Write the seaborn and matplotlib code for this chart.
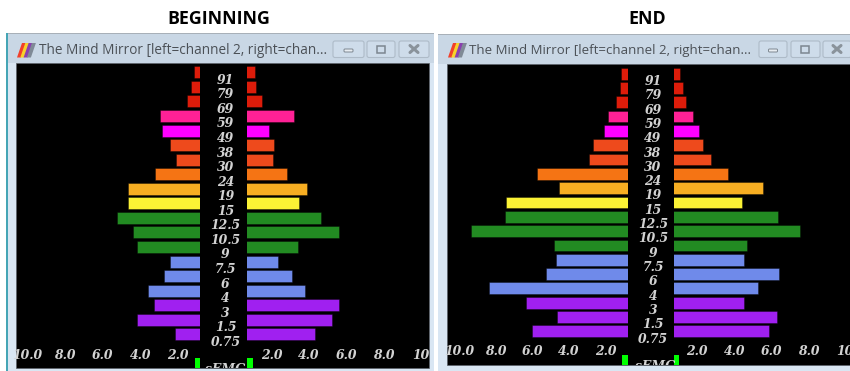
import numpy as np
import pandas as pd
import matplotlib
matplotlib.use("Agg")
import matplotlib.pyplot as plt
from matplotlib.patches import Rectangle, Polygon, FancyBboxPatch
import seaborn as sns

bands = ["91","79","69","59","49","38","30","24","19","15","12.5","10.5","9","7.5","6","4","3","1.5","0.75"]
band_colors = ["#dd1c0a","#dd1c0a","#dd1c0a","#ff2196","#ff00ff","#ee4a1c","#ee4a1c","#f57414","#f7ae22","#fbf235",
               "#228b22","#228b22","#228b22","#6f8aea","#6f8aea","#6f8aea","#a020f0","#a020f0","#a020f0"]
begin_left = [1.15,1.33,1.50,2.94,2.85,2.42,2.12,3.24,4.67,4.67,5.22,4.37,4.16,2.42,2.76,3.59,3.29,4.16,2.16]
begin_right = [1.09,1.14,1.50,3.21,1.86,2.11,2.07,2.84,3.88,3.46,4.63,5.61,3.39,2.32,3.09,3.80,5.61,5.21,4.34]
end_left = [1.18,1.24,1.44,1.89,2.09,2.67,2.93,5.76,4.53,7.42,7.47,9.33,4.84,4.73,5.25,8.35,6.35,4.67,6.04]
end_right = [1.05,1.24,1.41,1.77,2.07,2.32,2.74,3.66,5.55,4.43,6.36,7.53,4.67,4.52,6.41,5.28,4.50,6.31,5.86]
tick_vals = [2, 4, 6, 8, 10]
left_tick_labels = ["2.0", "4.0", "6.0", "8.0", "10.0"]
right_tick_labels = ["2.0", "4.0", "6.0", "8.0", "10"]

W, H = 850, 371
LABEL_FONT = dict(family="DejaVu Serif", style="italic", weight="bold", size=8.9, color="#d2d2d2")

sns.set_theme(style="white")
fig = plt.figure(figsize=(W / 100, H / 100), dpi=100, facecolor="white")
bg = fig.add_axes([0, 0, 1, 1], zorder=0)
bg.set_xlim(0, W); bg.set_ylim(H, 0); bg.axis("off")


def px_axes(x0, x1, y0, y1):
    return fig.add_axes([x0 / W, 1 - y1 / H, (x1 - x0) / W, (y1 - y0) / H], zorder=2, facecolor="none")


def half(x0, x1, zero, scale, side, values, y_first, y_step, top, bottom, tick_labels, center_x=None):
    ax = px_axes(x0, x1, top, bottom)
    df = pd.DataFrame({"band": bands, "value": values})
    sns.barplot(data=df, x="value", y="band", hue="band", order=bands, hue_order=bands,
                palette=band_colors, legend=False, orient="h", width=0.82, ax=ax,
                edgecolor="#00000066", linewidth=0.6, saturation=1)
    if side == "left":
        ax.set_xlim((zero - x0) / scale, (zero - x1) / scale)
    else:
        ax.set_xlim((x0 - zero) / scale, (x1 - zero) / scale)
    ax.set_ylim((bottom - y_first) / y_step, (top - y_first) / y_step)
    ax.set_xlabel(""); ax.set_ylabel("")
    ax.set_xticks(tick_vals, tick_labels, **LABEL_FONT)
    ax.tick_params(axis="x", length=0, pad=2.5)
    if side == "left":
        ax.yaxis.tick_right()
        ax.set_yticks(np.arange(len(bands)) + 0.44, bands, ha="center", **LABEL_FONT)
        ax.tick_params(axis="y", length=0, pad=(center_x - x1) * 0.72)
    else:
        ax.set_yticks([])
    for s in ax.spines.values():
        s.set_visible(False)
    ax.grid(False)
    return ax


def window(fx0, fx1, fy0, bx0, bx1, by0, by1, text_x, text_size, btns, icon_x, green, semg_x):
    bg.add_patch(Rectangle((fx0, fy0), fx1 - fx0, H - fy0, fc="#d9e6f3", ec="none"))
    bg.add_patch(Rectangle((fx0, fy0), fx1 - fx0, by0 - fy0, fc="#c9d7e5", ec="none"))
    bg.add_patch(Rectangle((fx0, fy0), fx1 - fx0, 1.2, fc="#a8b0b8", ec="none"))
    bg.add_patch(Rectangle((bx0, by0), bx1 - bx0, by1 - by0, fc="black", ec="#5a6068", lw=0.5))
    bg.text(text_x, 50.5, "The Mind Mirror [left=channel 2, right=chan...", family="Open Sans",
            size=text_size, color="#4b5056", va="center", ha="left")
    stripes = ["#f2402a", "#f7d22a", "#8a3fb0", "#7f8a96"]
    for k, c in enumerate(stripes):
        a = icon_x + k * 3.3
        bg.add_patch(Polygon([(a, 57.5), (a + 5, 43), (a + 9, 43), (a + 4, 57.5)], fc=c, ec="none"))
    for (a, b), glyph in zip(btns, ["min", "max", "close"]):
        bg.add_patch(FancyBboxPatch((a, 41), b - a, 16.5, boxstyle="round,pad=0,rounding_size=2",
                                    fc="#cedcea", ec="#aebbc8", lw=0.8))
        m = (a + b) / 2
        if glyph == "min":
            bg.add_patch(FancyBboxPatch((m - 4.5, 49), 9, 3, boxstyle="round,pad=0,rounding_size=1",
                                        fc="#e8edf2", ec="#7d8790", lw=0.7))
        elif glyph == "max":
            bg.add_patch(Rectangle((m - 4, 45.5), 8, 7, fc="#cedcea", ec="#7d8790", lw=1.1))
        else:
            bg.plot([m - 4, m + 4], [45.5, 52.5], color="#8a939b", lw=2.2)
            bg.plot([m - 4, m + 4], [52.5, 45.5], color="#8a939b", lw=2.2)
    for (a, b) in green:
        bg.add_patch(Rectangle((a, by1 - 10.5), b - a, 10.5, fc="#00ff00", ec="none"))
    clip = Rectangle((bx0, by0), bx1 - bx0, by1 - by0, transform=bg.transData)
    t = bg.text(semg_x, by1 + 1.5, "sEMG", ha="center", va="center", **LABEL_FONT)
    t.set_clip_path(clip); t.set_clip_on(True)


# BEGINNING window
window(7, 434, 33, 16, 429, 63, 368, 39, 9.77, [(333, 364), (367, 395), (399, 429)], 17,
       [(195, 200), (247, 253)], 225)
bg.add_patch(Rectangle((6.5, 33), 1.5, H - 33, fc="#45a5b5", ec="none"))
half(16, 200, 215.67, 18.83, "left", begin_left, 72.3, 14.56, 63, 346, left_tick_labels, center_x=225.5)
half(246.7, 429, 234.3, 18.67, "right", begin_right, 72.3, 14.56, 63, 346, right_tick_labels)

# END window
window(438, 850, 34, 447, 850, 63.5, 365, 469, 9.56, [(759, 787), (791, 820), (823, 851)], 448,
       [(622, 628), (674, 679)], 655)
half(447, 627.7, 642.3, 18.33, "left", end_left, 73.7, 14.31, 63.5, 342, left_tick_labels, center_x=653)
half(674, 850, 660.3, 18.5, "right", end_right, 73.7, 14.31, 63.5, 342, right_tick_labels)

bg.text(219, 18.5, "BEGINNING", family="Open Sans", weight="bold", size=12.8, color="black", ha="center", va="center")
bg.text(647, 18.5, "END", family="Open Sans", weight="bold", size=12.8, color="black", ha="center", va="center")

fig.savefig("out.png", dpi=100)
